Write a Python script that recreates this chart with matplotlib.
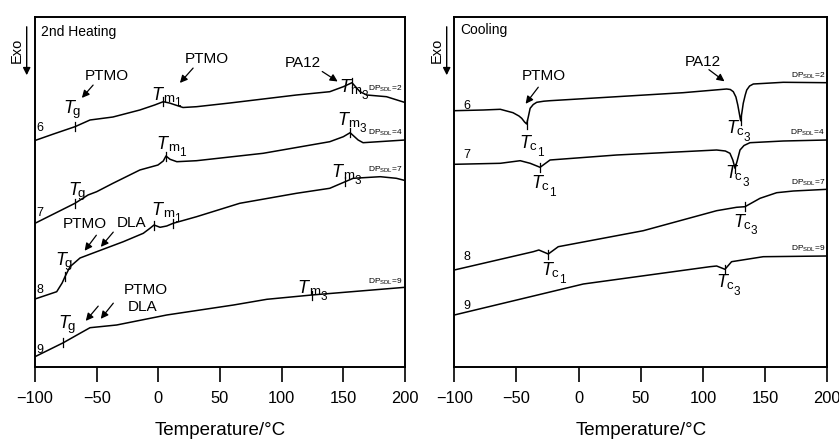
import matplotlib
matplotlib.use('Agg')
import matplotlib.pyplot as plt
import numpy as np

plt.rcParams['font.family'] = ['Liberation Sans', 'DejaVu Sans']
plt.rcParams['mathtext.fontset'] = 'custom'
plt.rcParams['mathtext.rm'] = 'Liberation Sans'
plt.rcParams['mathtext.it'] = 'Liberation Sans:italic'

# ---- 2nd heating curves (temperature in C, signal in arbitrary units, endo up)
h2_T = [-100, -85, -67.6, -55.4, -36.8, -15, -3, 4, 9, 20, 31, 58, 112, 139, 150, 157, 163.5, 169, 185, 200]
h2_y = [226.5, 233, 240.3, 247, 250, 257, 262, 265.3, 264, 259.5, 260.3, 264, 272, 275.3, 280.3, 284.3, 275.3, 272, 270.3, 264.5]
h4_T = [-100, -67.6, -57, -50, -36.8, -15, -0.3, 4, 6.2, 9.5, 15, 31, 85, 139, 150, 155.5, 162, 166, 200]
h4_y = [143.7, 163.7, 172, 175.3, 183.7, 197, 202, 206, 211, 207.7, 205.3, 206.3, 213.7, 225.3, 230.3, 234.3, 227, 224.3, 227]
h7_T = [-100, -82.4, -78, -75.7, -71.6, -63.5, -50, -28.4, -12.2, -6.8, -3.5, 1.4, 6.8, 12, 31, 66, 112, 139, 151.5, 158, 180, 193, 200]
h7_y = [68, 75.3, 84, 90.3, 100.3, 109, 115.3, 125.3, 133.7, 138.7, 142, 139.7, 141, 143.7, 150.3, 163.7, 173.7, 178.7, 185.3, 188.7, 190.3, 188.7, 186.5]
h9_T = [-100, -77, -63.5, -55.4, -33.8, 6.8, 61, 88, 124.4, 200]
h9_y = [10.3, 24.3, 33.7, 39.3, 42, 52, 62, 67.7, 72, 79.7]

# ---- cooling curves
c2_T = [-100, -76.7, -63, -52.8, -48, -45.8, -43.5, -41.8, -40.5, -39, -36.5, -33.7, -28, -23, 30.6, 84, 119, 122, 124.4,
        126.5, 128, 130.3, 131.5, 132.4, 134, 135.2, 137.5, 140.5, 164.6, 200]
c2_y = [256.3, 257, 257.7, 254.3, 251, 248.7, 245, 243, 250, 258.7, 262.5, 264.7, 265.8, 266.3, 270.3, 274.3, 278, 277.5, 275.3,
        270, 262, 246.3, 256, 263.7, 272, 277, 281, 283, 284.7, 284.3]
c4_T = [-100, -63, -47, -39, -31, -23, 30.6, 111, 118, 121.7, 124, 125.8, 127.5, 129.8, 133, 137.8, 164.6, 200]
c4_y = [202.7, 203.7, 206.3, 203.7, 199.7, 207, 212, 217, 216, 213.7, 207, 198.7, 206, 217, 221.5, 224.3, 226, 227]
c7_T = [-100, -36.5, -32, -24.4, -16.4, 52, 111, 127, 133.8, 145.9, 159.3, 172.7, 200]
c7_y = [97, 115.3, 117, 113, 120.3, 136.3, 156.3, 159.7, 160.3, 168.7, 174.3, 176, 177.7]
c9_T = [-100, 3.8, 105.6, 111, 117.7, 123, 148.5, 200]
c9_y = [52, 83, 100.3, 101, 97.7, 105.3, 110.3, 111]

# transition temperatures marked on curves
h_marks = [(-67.6, 3.8, 157), (-67.6, 6.2, 155.4), (-75.7, -3.5, 12, 151.5), (-77, 124.4)]
c_marks = [(-41.8, 130.3), (-31, 125.8), (-24.4, 133.8), (117.7,)]

xticks = [-100, -50, 0, 50, 100, 150, 200]

fig = plt.figure(figsize=(8.39, 4.42), dpi=100)
ax1 = fig.add_axes([35 / 839, 75 / 442, 370 / 839, 350 / 442])
ax2 = fig.add_axes([454.3 / 839, 75 / 442, 373 / 839, 350 / 442])

heat = [(h2_T, h2_y), (h4_T, h4_y), (h7_T, h7_y), (h9_T, h9_y)]
cool = [(c2_T, c2_y), (c4_T, c4_y), (c7_T, c7_y), (c9_T, c9_y)]

for ax, curves, marks in [(ax1, heat, h_marks), (ax2, cool, c_marks)]:
    for (T, y), m in zip(curves, marks):
        ax.plot(T, y, color='black', lw=1.1)
        for t in m:
            yy = np.interp(t, T, y)
            ax.plot([t, t], [yy - 4.5, yy + 4.5], color='black', lw=0.9)
    ax.set_xlim(-100, 200)
    ax.set_ylim(0, 350)
    ax.set_yticks([])
    ax.set_xticks(xticks)
    ax.set_xticklabels([str(v).replace('-', '\u2212') for v in xticks])
    ax.tick_params(axis='x', direction='out', length=11, width=1.2, pad=6, labelsize=11.8)
    for s in ax.spines.values():
        s.set_linewidth(1.4)
    ax.set_xlabel('Temperature/\u00b0C', fontsize=13.5, labelpad=12)


def arrow(ax, tail, head):
    ax.annotate('', xy=head, xytext=tail,
                arrowprops=dict(arrowstyle='-|>', color='black', lw=0.9, mutation_scale=11))


# italic T with a roman subscript letter and a lower subscript digit
sub_off = {'g': (6.8, -1.5), 'm': (8.0, -1.5), 'c': (7.2, -1.5)}
num_off = {'m': (16.3, -5.0), 'c': (12.4, -5.5)}


def tlab(ax, x, y, sub, num=None):
    ax.text(x, y, 'T', style='italic', fontsize=13, va='baseline')
    ax.annotate(sub, (x, y), xytext=sub_off[sub], textcoords='offset points',
                fontsize=9.5, va='baseline')
    if num:
        ax.annotate(num, (x, y), xytext=num_off[sub], textcoords='offset points',
                    fontsize=8.5, va='baseline')


def dplab(ax, y, n):
    ax.text(198.5, y, r'$\mathrm{DP}_{\mathrm{SDL}}\!=\!%s$' % n, fontsize=6, va='center', ha='right')


# ---- left panel texts
ax1.text(-95.4, 335, '2nd Heating', fontsize=10, va='center')
ax1.text(-59.5, 291, 'PTMO', fontsize=11, va='center')
arrow(ax1, (-51.4, 284), (-63.5, 267))
ax1.text(21.6, 308, 'PTMO', fontsize=11, va='center')
arrow(ax1, (29.7, 301), (16, 282))
ax1.text(102.7, 304, 'PA12', fontsize=11, va='center')
arrow(ax1, (131, 297), (147.3, 284))
tlab(ax1, -77, 253.7, 'g')
tlab(ax1, -5.5, 267.5, 'm', '1')
tlab(ax1, 146.5, 275.3, 'm', '3')
tlab(ax1, -73, 172, 'g')
tlab(ax1, -1.3, 218, 'm', '1')
tlab(ax1, 145, 242, 'm', '3')
tlab(ax1, -83.8, 102, 'g')
tlab(ax1, -5.4, 152, 'm', '1')
tlab(ax1, 140.5, 190.3, 'm', '3')
ax1.text(-77.3, 143, 'PTMO', fontsize=11, va='center')
ax1.text(-33.5, 144, 'DLA', fontsize=11, va='center')
arrow(ax1, (-48.9, 134), (-61.1, 114))
arrow(ax1, (-35.1, 137), (-48.1, 118))
tlab(ax1, -81.1, 38.7, 'g')
tlab(ax1, 113, 74.3, 'm', '3')
ax1.text(-28.4, 77, 'PTMO', fontsize=11, va='center')
ax1.text(-24.8, 60, 'DLA', fontsize=11, va='center')
arrow(ax1, (-47.3, 63), (-60.3, 44))
arrow(ax1, (-35.1, 66), (-48.1, 46))
dplab(ax1, 278, '2')
dplab(ax1, 234, '4')
dplab(ax1, 197, '7')
dplab(ax1, 85, '9')
for lab, yy in zip(['6', '7', '8', '9'], [239, 154, 77, 17]):
    ax1.text(-98.6, yy, lab, fontsize=9, va='center')

# ---- right panel texts
ax2.text(-95.4, 337, 'Cooling', fontsize=10, va='center')
ax2.text(-45.8, 291, 'PTMO', fontsize=11, va='center')
arrow(ax2, (-31.1, 282), (-44, 261))
ax2.text(85.6, 305, 'PA12', fontsize=11, va='center')
arrow(ax2, (103, 299), (119.1, 284))
tlab(ax2, -47.5, 219, 'c', '1')
tlab(ax2, 119.1, 233.7, 'c', '3')
tlab(ax2, -37.7, 178.7, 'c', '1')
tlab(ax2, 117.7, 188.7, 'c', '3')
tlab(ax2, 124.4, 140.3, 'c', '3')
tlab(ax2, -29.7, 92, 'c', '1')
tlab(ax2, 111, 79.7, 'c', '3')
dplab(ax2, 291, '2')
dplab(ax2, 234, '4')
dplab(ax2, 184, '7')
dplab(ax2, 118, '9')
for lab, yy in zip(['6', '7', '8', '9'], [261, 212, 110, 61]):
    ax2.text(-93, yy, lab, fontsize=9, va='center')

# ---- Exo arrows outside the frames
for xt, xa in [(17, 26.7), (437, 446.7)]:
    fig.text(xt / 839, 1 - 50 / 442, 'Exo', rotation=90, fontsize=10.5, ha='center', va='center')
    fig.add_artist(matplotlib.patches.FancyArrowPatch(
        (xa / 839, 1 - 24 / 442), (xa / 839, 1 - 78 / 442), transform=fig.transFigure,
        arrowstyle='-|>', mutation_scale=11, color='black', lw=1.0))

fig.savefig('out.png', dpi=100)
